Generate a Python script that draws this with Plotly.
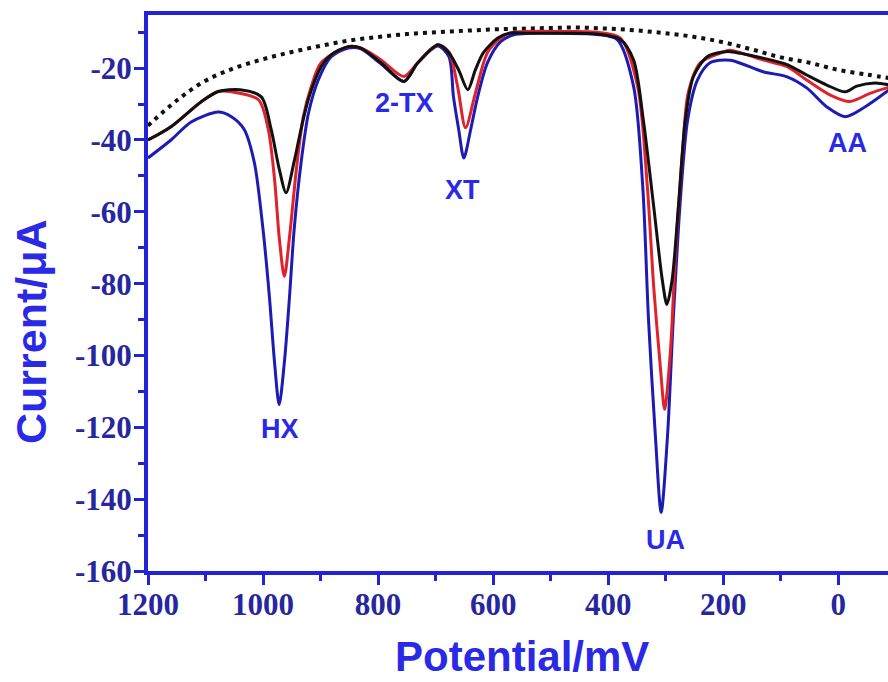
import plotly.graph_objects as go

# Potential (mV) and current (uA)
base_x = [1200, 1150, 1100, 1050, 1000, 950, 900, 850, 800, 750, 700, 650, 600, 550, 500, 450, 400,
          350, 300, 250, 200, 150, 100, 50, 0, -50, -90]
base_y = [-36, -29, -23.5, -20, -17.5, -15.5, -13.8, -12.3, -11.3, -10.5, -10, -9.6, -9.2, -9, -8.8, -8.7, -9,
          -9.5, -10.3, -11.3, -12.8, -14.8, -17, -18.5, -20.5, -21.8, -22.8]

black_x = [1200, 1160, 1108, 1078, 1040, 1003, 986, 972, 960, 946, 934, 920, 899, 882, 852, 830, 795, 755, 731,
           696, 677, 660, 644, 631, 617, 592, 570, 540, 480, 420, 379, 356, 339, 321, 306, 298, 289, 278, 266,
           252, 228, 200, 188, 131, 89, 55, 20, -12, -32, -64, -90]
black_y = [-40, -36.3, -29.4, -26.5, -26, -28, -37, -48, -54.7, -46, -37, -28, -19.6, -16.3, -14, -14.4, -18.5,
           -23.7, -18.5, -13.5, -15.7, -20.5, -26, -20.5, -15.7, -11.6, -10.2, -10.3, -10.3, -10.5, -12, -17.7,
           -34.4, -58.5, -79, -85.8, -79, -58.5, -34.4, -22.4, -16.8, -15.5, -15.4, -17.2, -19, -21.9, -24.7,
           -26.6, -25, -24.1, -24.7]

red_x = [1200, 1160, 1108, 1078, 1055, 1008, 991, 980, 972, 963, 954, 942, 930, 916, 899, 852, 830, 795, 755,
         731, 696, 677, 662, 648, 631, 610, 587, 570, 540, 480, 420, 379, 349, 332, 321, 309, 302, 292, 283,
         271, 261, 240, 200, 188, 131, 89, 55, 14, -20, -55, -90]
red_y = [-40, -36.3, -29.4, -26.5, -26.6, -28.8, -37, -51, -67, -78, -67, -48, -33.5, -25, -18.5, -14, -14.4,
         -17.7, -22.3, -18.5, -13.5, -15.5, -25, -36.6, -27, -15.7, -11.6, -10.2, -9.8, -9.8, -10, -11.6, -25,
         -53, -80.8, -104, -115, -99, -71.4, -43.6, -26.9, -18.5, -15.5, -15, -17.7, -19.6, -23.3, -27.5,
         -29.3, -27, -25.2]

blue_x = [1200, 1160, 1125, 1078, 1055, 1033, 1015, 1000, 989, 980, 972, 963, 954, 946, 934, 921, 904, 882,
          852, 830, 795, 755, 731, 696, 677, 669, 660, 651, 639, 627, 610, 587, 564, 540, 480, 420, 384, 356,
          340, 330, 318, 308, 297, 287, 275, 262, 245, 223, 188, 131, 89, 55, 20, -12, -46, -90]
blue_y = [-45, -40, -35, -32.2, -33.5, -37, -46.4, -65, -83.6, -102, -113.7, -102, -83.6, -65, -46.4, -32.5,
          -23.3, -16.9, -14.4, -14.6, -18.8, -23.7, -18.5, -13.8, -16.8, -28, -37, -45, -37, -28, -18.5, -12.6,
          -10.7, -10.3, -10.3, -10.6, -12.1, -25, -53, -90, -122.5, -143.7, -122.5, -90, -57.5, -34.4, -23.3,
          -18.5, -17.8, -21, -22.4, -25.5, -30.8, -33.5, -30.8, -25.8]

x_ticks = [1200, 1000, 800, 600, 400, 200, 0]
x_ticktext = ["1200", "1000", "800", "600", "400", "200", "0"]
y_ticks = [-160, -140, -120, -100, -80, -60, -40, -20]
y_ticktext = ["-160", "-140", "-120", "-100", "-80", "-60", "-40", "-20"]

peak_labels = ["HX", "2-TX", "XT", "UA", "AA"]
label_px = [(280, 429), (404, 103), (462, 190), (665, 540), (847, 143)]

AXIS_BLUE = "#2222d8"
TICK_BLUE = "#26269e"
TITLE_BLUE = "#2a2ae6"

fig = go.Figure()
fig.add_trace(go.Scatter(x=base_x, y=base_y, mode="lines", line=dict(color="#111111", width=4, dash="4px,5px", shape="spline"), showlegend=False))
fig.add_trace(go.Scatter(x=blue_x, y=blue_y, mode="lines", line=dict(color="#1c1cb4", width=3, shape="spline", smoothing=0.8), showlegend=False))
fig.add_trace(go.Scatter(x=red_x, y=red_y, mode="lines", line=dict(color="#e0222a", width=3, shape="spline", smoothing=0.8), showlegend=False))
fig.add_trace(go.Scatter(x=black_x, y=black_y, mode="lines", line=dict(color="#111111", width=3, shape="spline", smoothing=0.8), showlegend=False))

W, H = 888, 682
L, R, T, B = 148, 0, 15, 111
pw, ph = W - L - R, H - T - B

for txt, (px, py) in zip(peak_labels, label_px):
    fig.add_annotation(text=txt, xref="paper", yref="paper",
                       x=(px - L) / pw, y=(H - B - py) / ph, xanchor="center", yanchor="middle",
                       showarrow=False, font=dict(family="Liberation Sans", size=27, color=TITLE_BLUE, weight="bold"))

fig.add_annotation(text="Current/\u03bcA", xref="paper", yref="paper", x=(31 - L) / pw, y=(H - B - 332) / ph,
                   textangle=-90, xanchor="center", yanchor="middle", showarrow=False,
                   font=dict(family="Liberation Sans", size=43, color=TITLE_BLUE, weight="bold"))
fig.add_annotation(text="Potential/mV", xref="paper", yref="paper", x=(522 - L) / pw, y=(H - B - 656) / ph,
                   xanchor="center", yanchor="middle", showarrow=False,
                   font=dict(family="Liberation Sans", size=42, color=TITLE_BLUE, weight="bold"))

tickfont = dict(family="Liberation Serif", size=31, color=TICK_BLUE, weight="bold")
fig.update_xaxes(range=[1200, -86.3], tickmode="array", tickvals=x_ticks, ticktext=x_ticktext,
                 showgrid=False, zeroline=False, showline=True, linecolor=AXIS_BLUE, linewidth=4, mirror=True,
                 ticks="outside", ticklen=10, tickwidth=3, tickcolor=AXIS_BLUE, tickfont=tickfont, ticklabelstandoff=-7,
                 minor=dict(ticks="outside", ticklen=6, tickwidth=3, tickcolor=AXIS_BLUE, tickvals=[1100, 900, 700, 500, 300, 100]))
fig.update_yaxes(range=[-160, -5.2], tickmode="array", tickvals=y_ticks, ticktext=y_ticktext,
                 showgrid=False, zeroline=False, showline=True, linecolor=AXIS_BLUE, linewidth=4, mirror=False,
                 ticks="outside", ticklen=10, tickwidth=3, tickcolor=AXIS_BLUE, tickfont=tickfont, ticklabelstandoff=-4,
                 minor=dict(ticks="outside", ticklen=6, tickwidth=3, tickcolor=AXIS_BLUE, tickvals=[-150, -130, -110, -90, -70, -50, -30, -10]))

fig.update_layout(width=W, height=H, margin=dict(l=L, r=R, t=T, b=B), plot_bgcolor="white", paper_bgcolor="white")
fig.write_html("out.html")
